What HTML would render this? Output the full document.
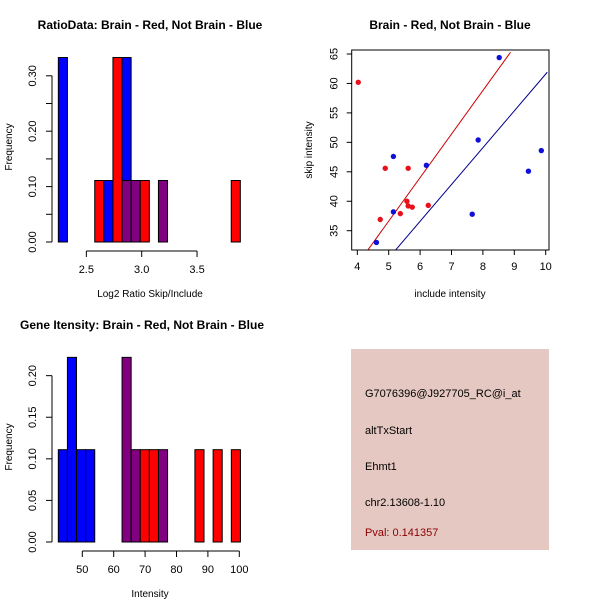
<!DOCTYPE html>
<html><head><meta charset="utf-8"><style>
body{margin:0;background:#fff}
svg{display:block;font-family:"Liberation Sans",Arial,sans-serif}
</style></head><body>
<svg id="c" width="600" height="600" viewBox="0 0 600 600">
<rect width="600" height="600" fill="#fff"/>
<g id="p1"></g>
<g id="p2"></g>
<g id="p3"></g>
<g>
<rect x="351" y="349" width="198" height="201" fill="#e6c8c2"/>
<text x="365" y="397" font-size="11">G7076396@J927705_RC@i_at</text>
<text x="365" y="434" font-size="11">altTxStart</text>
<text x="365" y="470" font-size="11">Ehmt1</text>
<text x="365" y="506" font-size="11">chr2.13608-1.10</text>
<text x="365" y="536" font-size="11" fill="#8b0000">Pval: 0.141357</text>
</g>
</svg>
<script>
// Panel 1 data
const ratioBinStart = 2.247, ratioBinWidth = 0.0822;
const ratioBlue = [0.333,0,0,0,0,0.111,0,0.333,0.111,0,0,0.111,0,0,0,0,0,0,0,0];
const ratioRed  = [0,0,0,0,0.111,0,0.333,0.111,0.111,0.111,0,0.111,0,0,0,0,0,0,0,0.111];
const ratioXTicks = [2.5,3.0,3.5];
const ratioXLabels = ["2.5","3.0","3.5"];
const ratioYTicks = [0,0.05,0.10,0.15,0.20,0.25,0.30];
// Panel 3 data
const intBinStart = 42.36, intBinWidth = 2.9;
const intBlue = [0.111,0.222,0.111,0.111,0,0,0,0.222,0.111,0,0,0.111,0,0,0,0,0,0,0,0];
const intRed  = [0,0,0,0,0,0,0,0.222,0.111,0.111,0.111,0.111,0,0,0,0.111,0,0.111,0,0.111];
const intXTicks = [50,60,70,80,90,100];
const intYTicks = [0,0.05,0.10,0.15,0.20];
// Panel 2 data
const redX = [4.03,4.73,4.89,5.62,5.37,5.58,5.62,5.75,6.26];
const redY = [60.2,36.9,45.6,45.6,37.9,40.0,39.2,39.0,39.3];
const blueX = [4.61,5.15,5.15,6.20,7.66,7.85,8.52,9.45,9.86];
const blueY = [33.0,47.6,38.2,46.1,37.8,50.4,64.4,45.1,48.6];
const redLine = [4.32,31.6,8.88,65.3];
const blueLine = [5.2,31.6,10.05,61.9];
const scXTicks = [4,5,6,7,8,9,10];
const scYTicks = [35,40,45,50,55,60,65];

const NS="http://www.w3.org/2000/svg";
function mk(parent,tag,attrs,txt){const e=document.createElementNS(NS,tag);for(const k in attrs)e.setAttribute(k,attrs[k]);if(txt!==undefined)e.textContent=txt;parent.appendChild(e);return e;}

function hist(g,o){
  const sx=v=>o.x0px+(v-o.x0v)*o.pxPerX, sy=v=>o.base-v*o.pxPerY;
  for(let i=0;i<o.blue.length;i++){
    const l=o.start+i*o.w, b=o.blue[i], r=o.red[i], m=Math.min(b,r);
    const draw=(h,col,nm)=>{if(h<=0)return;
      const el=mk(g,'rect',{x:sx(l),y:sy(h),width:sx(l+o.w)-sx(l),height:sy(0)-sy(h),fill:col,stroke:'#000','stroke-width':1});
      
      };
    if(b>r){draw(b,'#0000ff','bar-blue');}
    else if(r>b){draw(r,'#ff0000','bar-red');}
    draw(m,'#800080','bar-overlap');
  }
  const ya=o.yAxisX;
  mk(g,'line',{x1:ya,x2:ya,y1:sy(o.yt[0]),y2:sy(o.yt[o.yt.length-1]),stroke:'#000'});
  o.yt.forEach((t,i)=>{mk(g,'line',{x1:ya-6,x2:ya,y1:sy(t),y2:sy(t),stroke:'#000'});
    if(o.ylab(i)){const y=sy(t);mk(g,'text',{x:ya-16,y:y,'font-size':11,'text-anchor':'middle',transform:`rotate(-90 ${ya-16} ${y})`},t.toFixed(2));}});
  const xa=o.xAxisY;
  mk(g,'line',{x1:sx(o.xt[0]),x2:sx(o.xt[o.xt.length-1]),y1:xa,y2:xa,stroke:'#000'});
  o.xt.forEach((t,i)=>{mk(g,'line',{x1:sx(t),x2:sx(t),y1:xa,y2:xa+6,stroke:'#000'});
    mk(g,'text',{x:sx(t),y:xa+22,'font-size':11,'text-anchor':'middle'},o.xl[i]);});
  const tt=mk(g,'text',{x:o.titleX,y:o.titleY,'font-size':12,'font-weight':'bold','text-anchor':'middle'},o.title);
  
  
  mk(g,'text',{x:o.xlabX,y:o.xlabY,'font-size':10,'text-anchor':'middle'},o.xlab);
  mk(g,'text',{x:12,y:o.ylabY,'font-size':10,'text-anchor':'middle',transform:`rotate(-90 12 ${o.ylabY})`},'Frequency');
}

hist(document.getElementById('p1'),{start:ratioBinStart,w:ratioBinWidth,blue:ratioBlue,red:ratioRed,
  x0px:141.7,x0v:3,pxPerX:110.7,base:242,pxPerY:554,yAxisX:52,xAxisY:251,
  yt:ratioYTicks,ylab:i=>i%2===0,xt:ratioXTicks,xl:ratioXLabels,
  title:'RatioData: Brain - Red, Not Brain - Blue',titleX:150,titleY:29,xlab:'Log2 Ratio Skip/Include',xlabX:150,xlabY:297,ylabY:147});
hist(document.getElementById('p3'),{start:intBinStart,w:intBinWidth,blue:intBlue,red:intRed,
  x0px:82.3,x0v:50,pxPerX:3.14,base:542,pxPerY:831.7,yAxisX:52,xAxisY:551,
  yt:intYTicks,ylab:()=>true,xt:intXTicks,xl:intXTicks.map(String),
  title:'Gene Itensity: Brain - Red, Not Brain - Blue',titleX:142,titleY:329,xlab:'Intensity',xlabX:150,xlabY:597,ylabY:447});

// scatter
(function(){
  const g=document.getElementById('p2');
  const L=351.7,R=549,T=50,B=250;
  const sx=v=>357.3+(v-4)*31.4, sy=v=>54+(65-v)*5.89;
  const cp=mk(g,'clipPath',{id:'clip'});mk(cp,'rect',{x:L,y:T,width:R-L,height:B-T});
  const rl=mk(g,'line',{x1:sx(redLine[0]),y1:sy(redLine[1]),x2:sx(redLine[2]),y2:sy(redLine[3]),stroke:'#cc0000','clip-path':'url(#clip)'});
  
  
  const bl=mk(g,'line',{x1:sx(blueLine[0]),y1:sy(blueLine[1]),x2:sx(blueLine[2]),y2:sy(blueLine[3]),stroke:'#00008b','clip-path':'url(#clip)'});
  
  
  redX.forEach((x,i)=>{const c=mk(g,'circle',{cx:sx(x),cy:sy(redY[i]),r:2.7,fill:'#e8101a'});
    
    });
  blueX.forEach((x,i)=>{const c=mk(g,'circle',{cx:sx(x),cy:sy(blueY[i]),r:2.7,fill:'#1010d8'});
    
    });
  mk(g,'rect',{x:L,y:T,width:R-L,height:B-T,fill:'none',stroke:'#000'});
  scXTicks.forEach(t=>{mk(g,'line',{x1:sx(t),x2:sx(t),y1:B,y2:B+5,stroke:'#000'});
    mk(g,'text',{x:sx(t),y:B+20,'font-size':11,'text-anchor':'middle'},String(t));});
  scYTicks.forEach(t=>{const y=sy(t);mk(g,'line',{x1:L-5,x2:L,y1:y,y2:y,stroke:'#000'});
    mk(g,'text',{x:L-14,y:y,'font-size':11,'text-anchor':'middle',transform:`rotate(-90 ${L-14} ${y})`},String(t));});
  mk(g,'text',{x:450,y:29,'font-size':12,'font-weight':'bold','text-anchor':'middle'},'Brain - Red, Not Brain - Blue');
  mk(g,'text',{x:450,y:297,'font-size':10,'text-anchor':'middle'},'include intensity');
  mk(g,'text',{x:312,y:150,'font-size':10,'text-anchor':'middle',transform:'rotate(-90 312 150)'},'skip intensity');
})();
</script>
</body></html>
